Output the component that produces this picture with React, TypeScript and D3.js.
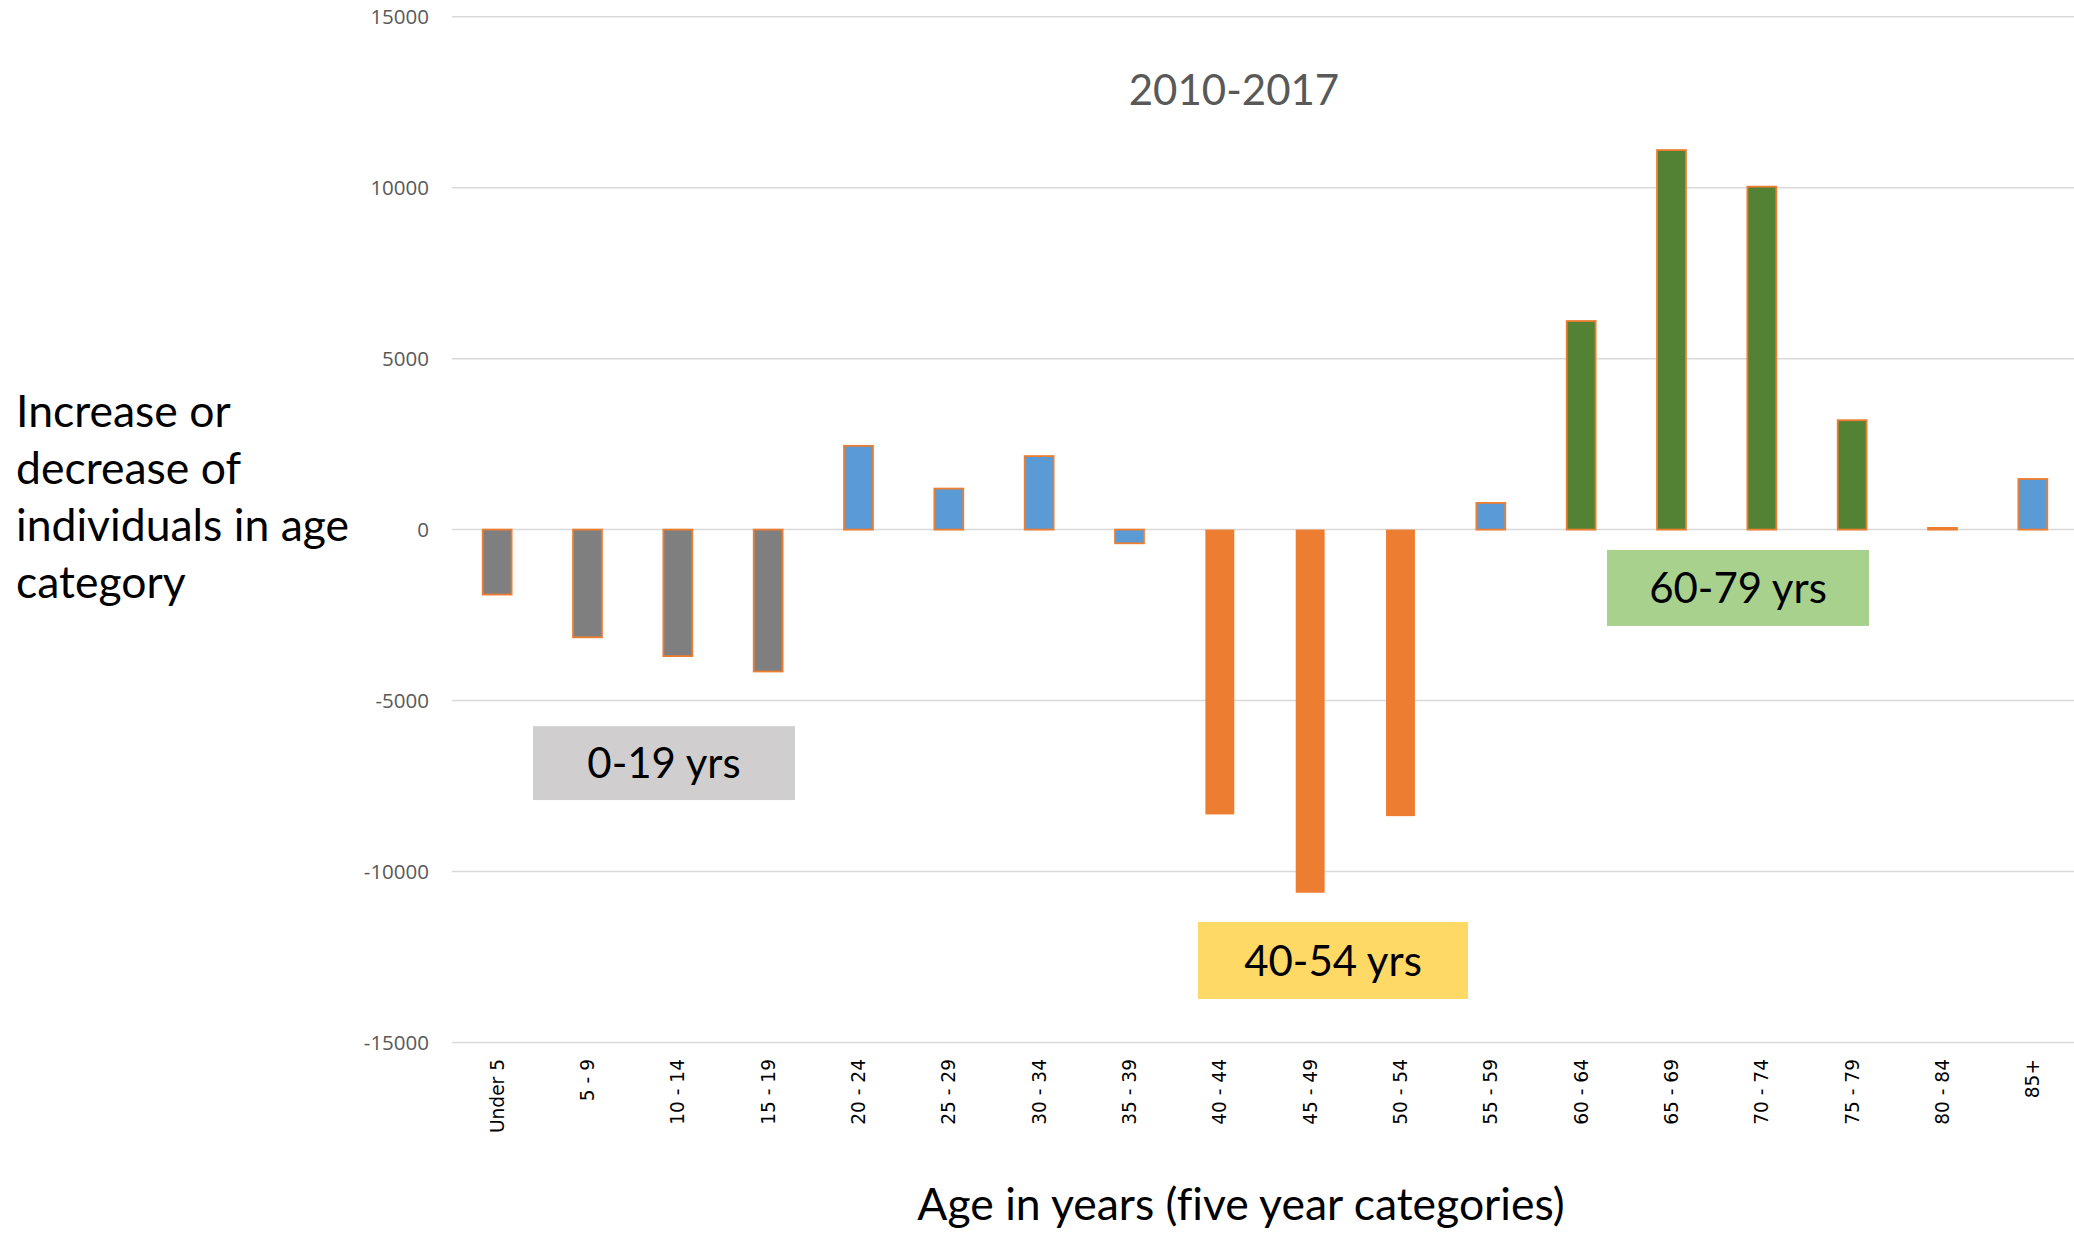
import React from "react";
import * as d3 from "d3";

const categories = ["Under 5", "5 - 9", "10 - 14", "15 - 19", "20 - 24", "25 - 29", "30 - 34", "35 - 39", "40 - 44", "45 - 49", "50 - 54", "55 - 59", "60 - 64", "65 - 69", "70 - 74", "75 - 79", "80 - 84", "85+"];
const values = [-1900, -3150, -3700, -4150, 2450, 1200, 2150, -400, -8330, -10620, -8380, 780, 6100, 11100, 10030, 3200, 50, 1480];
const groups = ["young", "young", "young", "young", "other", "other", "other", "other", "mid", "mid", "mid", "other", "old", "old", "old", "old", "other", "other"];
const yTicks = [-15000, -10000, -5000, 0, 5000, 10000, 15000];

const title = "2010-2017";
const yTitleLines = ["Increase or", "decrease of", "individuals in age", "category"];
const xTitle = "Age in years (five year categories)";

const annotations = [
  { label: "0-19 yrs", top: -5750, bottom: -7910, fill: "#D0CECE" },
  { label: "40-54 yrs", top: -11475, bottom: -13727, fill: "#FFD966" },
  { label: "60-79 yrs", top: -594, bottom: -2817, fill: "#A9D18E" },
];

const groupFill: Record<string, string> = {
  young: "#7F7F7F",
  other: "#5B9BD5",
  mid: "#ED7D31",
  old: "#548235",
};

export default function App() {
  const W = 2074;
  const H = 1233;
  const x = d3.scaleBand<string>().domain(categories).range([452, 2078]).padding(0);
  const y = d3.scaleLinear().domain([-15000, 15000]).range([1042.5, 16.7]);
  const barW = x.bandwidth() * 0.32;
  const cx = (c: string) => (x(c) as number) + x.bandwidth() / 2;

  const boxes = [
    { ...annotations[0], x0: 533, x1: 795 },
    { ...annotations[1], x0: 1198, x1: 1468 },
    { ...annotations[2], x0: 1607, x1: 1869 },
  ];

  return (
    <svg width={W} height={H} style={{ position: "absolute", left: 0, top: 0, background: "#fff" }}>
      <rect x={0} y={0} width={W} height={H} fill="#fff" />
      {yTicks.map((t) => (
        <g key={t}>
          <line x1={452} x2={2074} y1={y(t)} y2={y(t)} stroke="#D9D9D9" strokeWidth={1.5} />
          <text x={429} y={y(t)} dy="0.36em" textAnchor="end" fontFamily="'Open Sans', sans-serif" fontSize={20.5} fill="#595959">
            {t}
          </text>
        </g>
      ))}
      {categories.map((c, i) => {
        const v = values[i];
        const g = groups[i];
        const y0 = y(Math.max(0, v));
        const h = Math.abs(y(v) - y(0));
        return (
          <rect
            key={c}
            x={cx(c) - barW / 2}
            y={y0}
            width={barW}
            height={Math.max(h, 1)}
            fill={groupFill[g]}
            stroke="#ED7D31"
            strokeWidth={g === "mid" ? 0 : 1.8}
          />
        );
      })}
      {categories.map((c) => (
        <text
          key={c}
          transform={`translate(${cx(c)},1059) rotate(-90)`}
          textAnchor="end"
          dy="0.35em"
          fontFamily="'DejaVu Sans', sans-serif"
          fontSize={18.6}
          fill="#000"
        >
          {c}
        </text>
      ))}
      {boxes.map((b) => {
        const top = y(b.top);
        const bot = y(b.bottom);
        return (
          <g key={b.label}>
            <rect x={b.x0} y={top} width={b.x1 - b.x0} height={bot - top} fill={b.fill} />
            <text
              x={(b.x0 + b.x1) / 2}
              y={(top + bot) / 2}
              dy="0.36em"
              textAnchor="middle"
              fontFamily="Lato, sans-serif"
              fontSize={42}
              fill="#000"
            >
              {b.label}
            </text>
          </g>
        );
      })}
      <text x={1234} y={105} textAnchor="middle" fontFamily="Lato, sans-serif" fontSize={42} fill="#595959">
        {title}
      </text>
      {yTitleLines.map((l, i) => (
        <text key={l} x={16} y={427 + i * 57} fontFamily="Lato, sans-serif" fontSize={44.5} fill="#000">
          {l}
        </text>
      ))}
      <text
        x={1241}
        y={1220}
        textAnchor="middle"
        fontFamily="Lato, sans-serif"
        fontSize={44.5}
        fill="#000"
        style={{ fontVariantLigatures: "none" }}
      >
        {xTitle}
      </text>
    </svg>
  );
}
